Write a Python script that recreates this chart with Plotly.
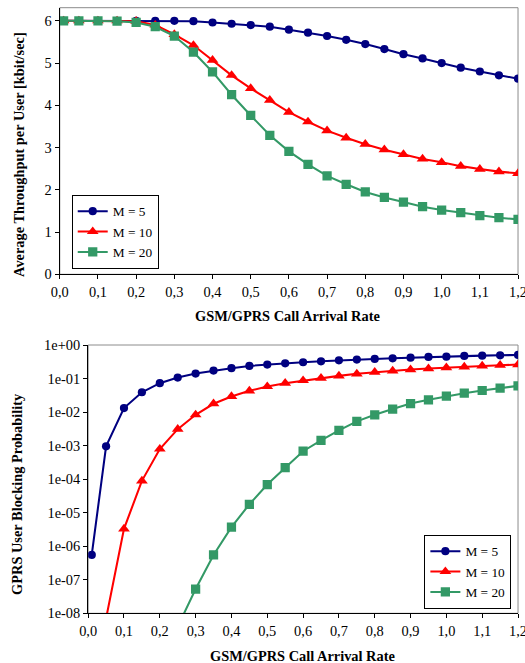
import plotly.graph_objects as go

# reference picture size (all positions below are read in these pixels)
W, H = 525, 663
# the page is captured with the browser's 8px body margin around it, so the plot div
# is made 16px larger and pulled back by the margin to fill the captured area.
DIV_W, DIV_H = W + 16, H + 16
K = (DIV_W / W + DIV_H / H) / 2  # size scale for fonts / markers

# ---------------- data ----------------
x_rate = [0.01, 0.05, 0.10, 0.15, 0.20, 0.25, 0.30, 0.35, 0.40, 0.45, 0.50, 0.55,
          0.60, 0.65, 0.70, 0.75, 0.80, 0.85, 0.90, 0.95, 1.00, 1.05, 1.10, 1.15, 1.20]

series_names = ["M = 5", "M = 10", "M = 20"]

# Average throughput per user [kbit/sec]
thr_m5 = [6.00, 6.00, 6.00, 6.00, 6.00, 6.00, 6.00, 5.99, 5.96, 5.93, 5.90, 5.86,
          5.79, 5.72, 5.64, 5.55, 5.45, 5.33, 5.21, 5.11, 5.00, 4.89, 4.80, 4.71, 4.63]
thr_m10 = [6.00, 6.00, 6.00, 6.00, 5.99, 5.90, 5.68, 5.42, 5.07, 4.71, 4.40, 4.12,
           3.84, 3.61, 3.40, 3.23, 3.08, 2.95, 2.84, 2.73, 2.65, 2.56, 2.49, 2.43, 2.39]
thr_m20 = [6.00, 6.00, 6.00, 5.99, 5.96, 5.86, 5.64, 5.26, 4.79, 4.25, 3.76, 3.29,
           2.91, 2.60, 2.33, 2.13, 1.95, 1.82, 1.71, 1.60, 1.52, 1.46, 1.39, 1.34, 1.30]

# GPRS user blocking probability
blk_m5 = [5.5e-7, 9.5e-4, 0.0132, 0.039, 0.0727, 0.107, 0.141, 0.173, 0.203, 0.238,
          0.261, 0.285, 0.306, 0.327, 0.350, 0.367, 0.384, 0.402, 0.420, 0.440,
          0.450, 0.471, 0.482, 0.493, 0.505]
blk_m10 = [None, 7e-9, 3.3e-6, 8.9e-5, 7.9e-4, 3.1e-3, 8.3e-3, 0.0177, 0.0292, 0.043,
           0.0578, 0.0727, 0.0872, 0.102, 0.120, 0.138, 0.154, 0.169, 0.185, 0.198,
           0.212, 0.222, 0.238, 0.249, 0.261]
blk_m20 = [None, None, None, None, None, 4e-9, 5.3e-8, 5.5e-7, 3.7e-6, 1.78e-5,
           6.9e-5, 2.2e-4, 6.8e-4, 1.44e-3, 2.85e-3, 5.3e-3, 8.3e-3, 0.0123, 0.018,
           0.0232, 0.0299, 0.0366, 0.044, 0.0516, 0.0605]

x_tickvals = [0.0, 0.1, 0.2, 0.3, 0.4, 0.5, 0.6, 0.7, 0.8, 0.9, 1.0, 1.1, 1.2]
x_ticktext = ["0,0", "0,1", "0,2", "0,3", "0,4", "0,5", "0,6", "0,7", "0,8", "0,9",
              "1,0", "1,1", "1,2"]
thr_tickvals = [0, 1, 2, 3, 4, 5, 6]
thr_ticktext = ["0", "1", "2", "3", "4", "5", "6"]
blk_tickvals = [1e-8, 1e-7, 1e-6, 1e-5, 1e-4, 1e-3, 1e-2, 1e-1, 1e0]
blk_ticktext = ["1e-08", "1e-07", "1e-06", "1e-05", "1e-04", "1e-03", "1e-02",
                "1e-01", "1e+00"]

x_title = "GSM/GPRS Call Arrival Rate"
thr_title = "Average Throughput per User [kbit/sec]"
blk_title = "GPRS User Blocking Probability"

# ---------------- styles ----------------
colors = ["#000080", "#FF0000", "#339966"]
symbols = ["circle", "triangle-up", "square"]
msizes = [8 * K, 10 * K, 9 * K]
FONT = "Liberation Serif, Times New Roman, serif"


def px_x(p):
    return p / W


def px_y(p):
    return (H - p) / H


fig = go.Figure()

thr_series = [thr_m5, thr_m10, thr_m20]
blk_series = [blk_m5, blk_m10, blk_m20]

for i in range(3):
    fig.add_trace(go.Scatter(
        x=x_rate, y=thr_series[i], name=series_names[i], mode="lines+markers",
        line=dict(color=colors[i], width=2 * K),
        marker=dict(symbol=symbols[i], size=msizes[i], color=colors[i], line=dict(width=0)),
        xaxis="x", yaxis="y", legend="legend"))

for i in range(3):
    fig.add_trace(go.Scatter(
        x=x_rate, y=blk_series[i], name=series_names[i], mode="lines+markers",
        line=dict(color=colors[i], width=2 * K),
        marker=dict(symbol=symbols[i], size=msizes[i], color=colors[i], line=dict(width=0)),
        xaxis="x2", yaxis="y2", legend="legend2"))

tick_font = dict(family=FONT, size=14 * K, color="black")
axis_common = dict(showline=True, linecolor="black", linewidth=1, ticks="outside",
                   ticklen=4 * K, tickcolor="black", tickwidth=1, showgrid=False,
                   zeroline=False, tickfont=tick_font, mirror=False,
                   ticklabeloverflow="allow")

top_dom_x = [px_x(59), px_x(519)]
top_dom_y = [px_y(274.3), px_y(7.7)]
bot_dom_x = [px_x(87.5), px_x(519)]
bot_dom_y = [px_y(613.3), px_y(345)]

legend_common = dict(xanchor="left", yanchor="top", bordercolor="black", borderwidth=1,
                     bgcolor="white", font=dict(family=FONT, size=13 * K, color="black"),
                     itemwidth=30, tracegroupgap=0)

fig.update_layout(
    autosize=True,
    margin=dict(l=0, r=0, t=0, b=0),
    paper_bgcolor="white", plot_bgcolor="white",
    font=dict(family=FONT, size=14 * K, color="black"),
    xaxis=dict(domain=top_dom_x, range=[0, 1.2], tickvals=x_tickvals, ticktext=x_ticktext,
               anchor="y", **axis_common),
    yaxis=dict(domain=top_dom_y, range=[0, 6.31], tickvals=thr_tickvals,
               ticktext=thr_ticktext, anchor="x", **axis_common),
    xaxis2=dict(domain=bot_dom_x, range=[0, 1.2], tickvals=x_tickvals, ticktext=x_ticktext,
                anchor="y2", **axis_common),
    yaxis2=dict(domain=bot_dom_y, type="log", range=[-8, 0], tickvals=blk_tickvals,
                ticktext=blk_ticktext, anchor="x2", **axis_common),
    legend=dict(x=px_x(71), y=px_y(195), **legend_common),
    legend2=dict(x=px_x(425), y=px_y(535), **legend_common),
    showlegend=True,
)

# gray plot-area frame (top and right edges)
for xr, yr in (("x domain", "y domain"), ("x2 domain", "y2 domain")):
    fig.add_shape(type="rect", xref=xr, yref=yr, x0=0, x1=1, y0=0, y1=1,
                  line=dict(color="#8c8c8c", width=1), layer="below")

title_font = dict(family=FONT, size=14 * K, color="black")
fig.add_annotation(text="<b>%s</b>" % x_title, xref="paper", yref="paper",
                   x=px_x(288), y=px_y(316), showarrow=False, font=title_font,
                   xanchor="center", yanchor="middle")
fig.add_annotation(text="<b>%s</b>" % x_title, xref="paper", yref="paper",
                   x=px_x(303), y=px_y(656), showarrow=False, font=title_font,
                   xanchor="center", yanchor="middle")
fig.add_annotation(text="<b>%s</b>" % thr_title, xref="paper", yref="paper",
                   x=px_x(18), y=px_y(154), showarrow=False, font=title_font,
                   textangle=-90, xanchor="center", yanchor="middle")
fig.add_annotation(text="<b>%s</b>" % blk_title, xref="paper", yref="paper",
                   x=px_x(16), y=px_y(494), showarrow=False, font=title_font,
                   textangle=-90, xanchor="center", yanchor="middle")

fig.write_html("out.html",
               default_width="%dpx" % DIV_W,
               default_height="%dpx; margin:-8px -8px -8px -8px" % DIV_H)
